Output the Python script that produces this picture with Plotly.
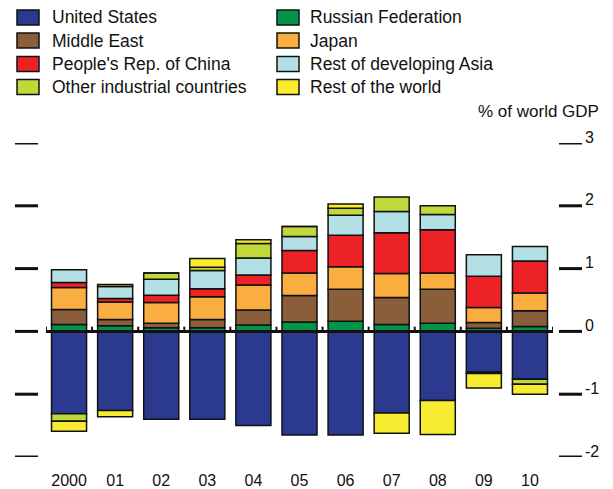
import plotly.graph_objects as go

years = ["2000", "01", "02", "03", "04", "05", "06", "07", "08", "09", "10"]

united_states = [-1.31, -1.26, -1.40, -1.40, -1.50, -1.65, -1.65, -1.30, -1.10, -0.65, -0.76]
russian_fed = [0.11, 0.09, 0.06, 0.06, 0.10, 0.15, 0.16, 0.11, 0.13, 0.05, 0.08]
middle_east = [0.24, 0.10, 0.07, 0.13, 0.24, 0.42, 0.51, 0.43, 0.54, 0.09, 0.25]
japan = [0.35, 0.28, 0.33, 0.36, 0.40, 0.36, 0.36, 0.38, 0.26, 0.24, 0.28]
china = [0.08, 0.055, 0.115, 0.13, 0.16, 0.36, 0.50, 0.65, 0.69, 0.50, 0.51]
rest_dev_asia = [0.20, 0.19, 0.255, 0.29, 0.27, 0.22, 0.32, 0.34, 0.24, 0.34, 0.23]
other_industrial = [-0.12, 0.03, 0.10, 0.05, 0.23, 0.16, 0.11, 0.23, 0.14, -0.02, -0.08]
rest_of_world = [-0.16, -0.10, 0.0, 0.14, 0.06, 0.0, 0.07, -0.32, -0.54, -0.23, -0.16]

y_ticks = [-2, -1, 0, 1, 2, 3]
y_tick_labels = ["-2", "-1", "0", "1", "2", "3"]
unit_label = "% of world GDP"

series = [
    ("United States", united_states, "#2b3a8e"),
    ("Russian Federation", russian_fed, "#00954a"),
    ("Middle East", middle_east, "#8a5d3b"),
    ("Japan", japan, "#fbae40"),
    ("People's Rep. of China", china, "#ec2227"),
    ("Rest of developing Asia", rest_dev_asia, "#b2e0e5"),
    ("Other industrial countries", other_industrial, "#c0d83a"),
    ("Rest of the world", rest_of_world, "#f8ec31"),
]

# legend layout: two columns, four rows (order as in the reference)
legend_col1 = ["United States", "Middle East", "People's Rep. of China", "Other industrial countries"]
legend_col2 = ["Russian Federation", "Japan", "Rest of developing Asia", "Rest of the world"]

FONT = "Liberation Sans"
INK = "#111111"

fig = go.Figure()
for name, vals, col in series:
    fig.add_trace(go.Bar(
        x=years, y=vals, name=name,
        marker=dict(color=col, line=dict(color=INK, width=1.5)),
        width=0.76, showlegend=False,
    ))

# The page places the figure 8px in from the top-left corner of the window,
# so the figure is made 8px smaller and all window-pixel positions shifted.
WIN_W, WIN_H, OFF = 613, 489, 8
W, H = WIN_W - OFF, WIN_H - OFF
plot_l, plot_r, plot_t, plot_b = 46, 553, 143, 457   # plot area, window pixels
ml, mr, mt, mb = plot_l - OFF, WIN_W - plot_r, plot_t - OFF, WIN_H - plot_b
pw = plot_r - plot_l
ph = plot_b - plot_t


def pxx(px):
    return (px - plot_l) / pw


def pxy(py):
    return (plot_b - py) / ph


shapes = []
annotations = []

# zero axis line
shapes.append(dict(type="line", xref="paper", yref="y", x0=0, x1=1, y0=0, y1=0,
                   line=dict(color=INK, width=3), layer="above"))
# small category boundary ticks
n = len(years)
for k in range(n + 1):
    shapes.append(dict(type="line", xref="x", yref="y", x0=k - 0.5, x1=k - 0.5,
                       y0=0, y1=0.075, line=dict(color=INK, width=2), layer="above"))
# left and right tick marks with right-hand labels
for v, lab in zip(y_ticks, y_tick_labels):
    shapes.append(dict(type="line", xref="paper", yref="y",
                       x0=pxx(15), x1=pxx(38), y0=v, y1=v,
                       line=dict(color=INK, width=3)))
    shapes.append(dict(type="line", xref="paper", yref="y",
                       x0=pxx(559), x1=pxx(582), y0=v, y1=v,
                       line=dict(color=INK, width=3)))
    annotations.append(dict(xref="paper", yref="y", x=pxx(583), y=v,
                            text=lab, showarrow=False, xanchor="left", yanchor="middle",
                            yshift=6, font=dict(family=FONT, size=16, color=INK)))

annotations.append(dict(xref="paper", yref="paper", x=pxx(601), y=pxy(111),
                        text=unit_label, showarrow=False, xanchor="right", yanchor="middle",
                        font=dict(family=FONT, size=17, color=INK)))

# manual legend
colors = {name: col for name, _, col in series}
row_centers = [17.5, 40.5, 64, 87]
for col_names, sq_x0, txt_x in ((legend_col1, 17, 50), (legend_col2, 277, 308)):
    for name, cy in zip(col_names, row_centers):
        shapes.append(dict(type="rect", xref="paper", yref="paper",
                           x0=pxx(sq_x0), x1=pxx(sq_x0 + 22),
                           y0=pxy(cy + 7.5), y1=pxy(cy - 7.5),
                           fillcolor=colors[name], line=dict(color=INK, width=1.5)))
        annotations.append(dict(xref="paper", yref="paper", x=pxx(txt_x), y=pxy(cy),
                                text=name, showarrow=False, xanchor="left", yanchor="middle",
                                font=dict(family=FONT, size=17.5, color=INK)))

fig.update_layout(
    width=W, height=H,
    margin=dict(l=ml, r=mr, t=mt, b=mb, autoexpand=False),
    barmode="relative",
    paper_bgcolor="white", plot_bgcolor="white",
    font=dict(family=FONT, size=16, color=INK),
    showlegend=False,
    xaxis=dict(type="category", range=[-0.5, n - 0.5], showgrid=False, zeroline=False,
               showline=False, ticks="", ticklabelstandoff=12,
               tickfont=dict(family=FONT, size=16, color=INK)),
    yaxis=dict(range=[-2, 3], showgrid=False, zeroline=False, showline=False,
               showticklabels=False, ticks=""),
    shapes=shapes,
    annotations=annotations,
)

fig.write_html("out.html")
